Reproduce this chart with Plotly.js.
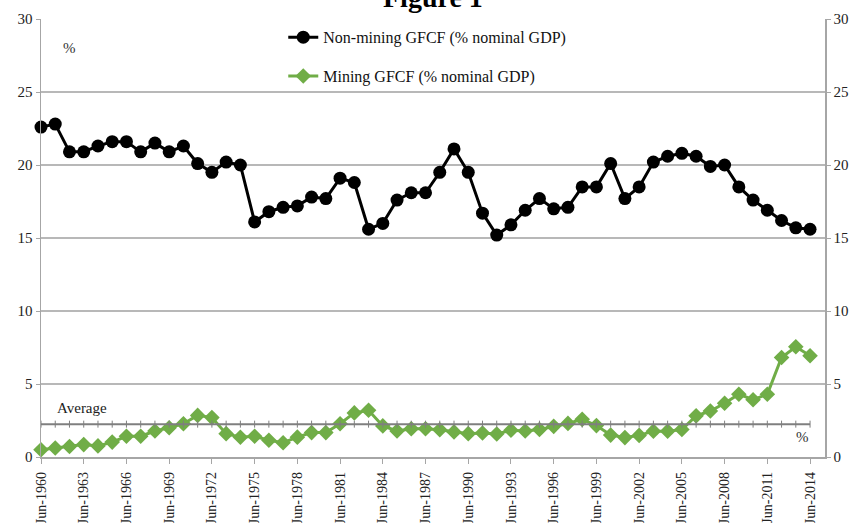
<!DOCTYPE html>
<html>
<head>
<meta charset="utf-8">
<script src="https://cdn.plot.ly/plotly-3.0.1.min.js"></script>
<style>html,body{margin:0;padding:0;background:#fff;}#chart{width:850px;height:523px;}</style>
</head>
<body>
<div id="chart"></div>
<script>
const categories = [
  "Jun-1960","Jun-1961","Jun-1962","Jun-1963","Jun-1964","Jun-1965","Jun-1966","Jun-1967","Jun-1968","Jun-1969",
  "Jun-1970","Jun-1971","Jun-1972","Jun-1973","Jun-1974","Jun-1975","Jun-1976","Jun-1977","Jun-1978","Jun-1979",
  "Jun-1980","Jun-1981","Jun-1982","Jun-1983","Jun-1984","Jun-1985","Jun-1986","Jun-1987","Jun-1988","Jun-1989",
  "Jun-1990","Jun-1991","Jun-1992","Jun-1993","Jun-1994","Jun-1995","Jun-1996","Jun-1997","Jun-1998","Jun-1999",
  "Jun-2000","Jun-2001","Jun-2002","Jun-2003","Jun-2004","Jun-2005","Jun-2006","Jun-2007","Jun-2008","Jun-2009",
  "Jun-2010","Jun-2011","Jun-2012","Jun-2013","Jun-2014"
];
const nonMining = [
  22.6, 22.8, 20.9, 20.9, 21.3, 21.6, 21.6, 20.9, 21.5, 20.9,
  21.3, 20.1, 19.5, 20.2, 20.0, 16.1, 16.8, 17.1, 17.2, 17.8,
  17.7, 19.1, 18.8, 15.6, 16.0, 17.6, 18.1, 18.1, 19.5, 21.1,
  19.5, 16.7, 15.2, 15.9, 16.9, 17.7, 17.0, 17.1, 18.5, 18.5,
  20.1, 17.7, 18.5, 20.2, 20.6, 20.8, 20.6, 19.9, 20.0, 18.5,
  17.6, 16.9, 16.2, 15.7, 15.6
];
const mining = [
  0.50, 0.62, 0.72, 0.85, 0.76, 1.02, 1.42, 1.42, 1.78, 2.00,
  2.28, 2.85, 2.70, 1.60, 1.35, 1.42, 1.15, 0.98, 1.36, 1.67,
  1.67, 2.28, 3.02, 3.20, 2.13, 1.78, 1.93, 1.93, 1.87, 1.72,
  1.60, 1.64, 1.58, 1.83, 1.78, 1.88, 2.10, 2.30, 2.58, 2.15,
  1.50, 1.33, 1.48, 1.77, 1.77, 1.88, 2.82, 3.15, 3.68, 4.30,
  3.92, 4.30, 6.82, 7.55, 6.94
];
const averageValue = 2.25;
const tickLabels = [
  "Jun-1960","Jun-1963","Jun-1966","Jun-1969","Jun-1972","Jun-1975","Jun-1978","Jun-1981","Jun-1984","Jun-1987",
  "Jun-1990","Jun-1993","Jun-1996","Jun-1999","Jun-2002","Jun-2005","Jun-2008","Jun-2011","Jun-2014"
];
const seriesNames = ["Non-mining GFCF (% nominal GDP)", "Mining GFCF (% nominal GDP)"];
const titleText = "Figure 1";

const serif = '"Liberation Serif", "DejaVu Serif", serif';
const green = '#70AD47';

const traces = [
  {
    x: categories, y: nonMining, name: seriesNames[0], type: 'scatter', mode: 'lines+markers',
    line: {color: '#000', width: 3}, marker: {color: '#000', size: 13, symbol: 'circle'},
    legendgroup: 'a', cliponaxis: false
  },
  {
    x: categories, y: mining, name: seriesNames[1], type: 'scatter', mode: 'lines+markers',
    line: {color: green, width: 3}, marker: {color: green, size: 12, symbol: 'diamond'},
    legendgroup: 'b', cliponaxis: false
  },
  {
    x: categories, y: categories.map(() => averageValue), yaxis: 'y2', type: 'scatter', mode: 'lines+markers',
    line: {color: '#7f7f7f', width: 2},
    marker: {symbol: 'line-ns', size: 5, line: {color: '#7f7f7f', width: 1}},
    showlegend: false, hoverinfo: 'skip'
  }
];

const axisGray = '#a6a6a6';
const layout = {
  width: 850, height: 523,
  margin: {l: 41, r: 25, t: 19, b: 66, pad: 0},
  paper_bgcolor: '#fff', plot_bgcolor: '#fff',
  font: {family: serif, color: '#222', size: 15},
  showlegend: true,
  xaxis: {
    type: 'category', range: [0, 55.05],
    tickmode: 'array', tickvals: tickLabels, ticktext: tickLabels, tickangle: -90,
    ticks: 'outside', ticklen: 5, tickcolor: axisGray, tickwidth: 1, ticklabelstandoff: 3,
    showline: true, linecolor: axisGray, linewidth: 1.5, showgrid: false, zeroline: false,
    tickfont: {family: serif, size: 14, color: '#222'}
  },
  yaxis: {
    range: [0, 30], dtick: 5, tick0: 0,
    showgrid: true, gridcolor: '#b8b8b8', gridwidth: 1.5,
    showline: true, linecolor: axisGray, linewidth: 1.5,
    ticks: 'outside', ticklen: 4, tickcolor: axisGray, zeroline: false,
    tickfont: {family: serif, size: 15, color: '#222'}
  },
  yaxis2: {
    range: [0, 30], dtick: 5, tick0: 0, overlaying: 'y', side: 'right',
    showgrid: false, showline: true, linecolor: axisGray, linewidth: 1.5,
    ticks: 'outside', ticklen: 4, tickcolor: axisGray, zeroline: false,
    tickfont: {family: serif, size: 15, color: '#222'}
  },
  legend: {
    x: 0.309, xanchor: 'left', y: 0.997, yanchor: 'top',
    bgcolor: 'rgba(0,0,0,0)', borderwidth: 0,
    font: {family: serif, size: 16, color: '#111'},
    tracegroupgap: 15
  },
  annotations: [
    {text: '<b>' + titleText + '</b>', xref: 'paper', yref: 'paper', x: 0.5, y: 1, xanchor: 'center', yanchor: 'bottom', yshift: 4,
     showarrow: false, font: {family: serif, size: 28, color: '#000'}},
    {text: '%', xref: 'paper', yref: 'paper', x: 0.036, y: 0.934, xanchor: 'center', yanchor: 'middle', showarrow: false,
     font: {family: serif, size: 15, color: '#333'}},
    {text: 'Average', xref: 'paper', yref: 'paper', x: 0.018, y: 0.112, xanchor: 'left', yanchor: 'middle', showarrow: false,
     font: {family: serif, size: 15, color: '#222'}},
    {text: '%', xref: 'paper', yref: 'paper', x: 0.971, y: 0.046, xanchor: 'center', yanchor: 'middle', showarrow: false,
     font: {family: serif, size: 15, color: '#333'}}
  ]
};

Plotly.newPlot('chart', traces, layout, {displayModeBar: false, staticPlot: true});
</script>
</body>
</html>
